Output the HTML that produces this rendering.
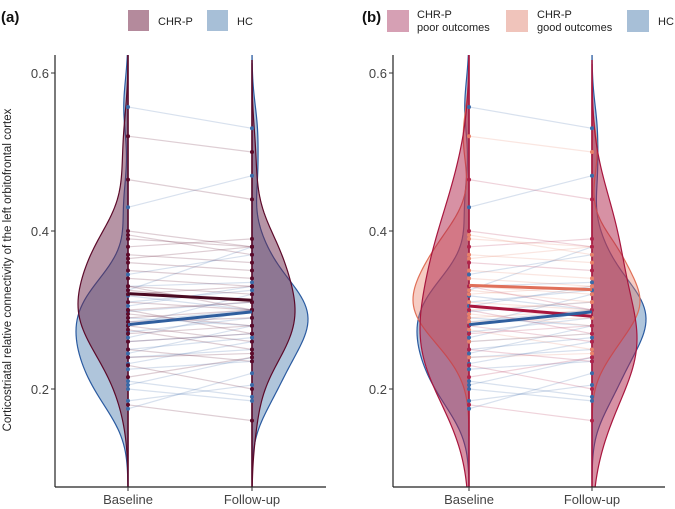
<!DOCTYPE html>
<html><head><meta charset="utf-8">
<style>
body{margin:0;background:#fff;overflow:hidden;}
svg{display:block;font-family:"Liberation Sans",Arial,sans-serif;}
</style></head>
<body>
<svg id="chart" width="675" height="509" viewBox="0 0 675 509" xmlns="http://www.w3.org/2000/svg">
<defs>
<clipPath id="clipA"><rect x="55" y="55" width="271" height="432"/></clipPath>
<clipPath id="clipB"><rect x="393" y="55" width="272" height="432"/></clipPath>
</defs>
<text x="1" y="22" font-size="15" font-weight="bold" fill="#111">(a)</text>
<text x="362" y="22" font-size="15" font-weight="bold" fill="#111">(b)</text>
<text transform="translate(11,270) rotate(-90)" text-anchor="middle" font-size="11.5" fill="#222">Corticostriatal relative connectivity of the left orbitofrontal cortex</text>
<g>
<rect x="128" y="10" width="21" height="21" fill="#b48a9c"/>
<text x="158" y="25" font-size="11" fill="#222">CHR-P</text>
<rect x="207" y="10" width="21" height="21" fill="#a7bfd7"/>
<text x="237" y="25" font-size="11" fill="#222">HC</text>
</g>
<g>
<rect x="387" y="10" width="22" height="22" fill="#d6a0b4"/>
<text x="417" y="18" font-size="11" fill="#222"><tspan x="417">CHR-P</tspan><tspan x="417" dy="13">poor outcomes</tspan></text>
<rect x="506" y="10" width="22" height="22" fill="#f0c4bb"/>
<text x="537" y="18" font-size="11" fill="#222"><tspan x="537">CHR-P</tspan><tspan x="537" dy="13">good outcomes</tspan></text>
<rect x="627" y="10" width="22" height="22" fill="#a7bfd7"/>
<text x="658" y="25" font-size="11" fill="#222">HC</text>
</g>
</svg>
<script>
const yTicks = [0.2, 0.4, 0.6];
const xCategories = ["Baseline", "Follow-up"];
const hcBase   = [0.557,0.43,0.345,0.33,0.325,0.318,0.31,0.305,0.298,0.29,0.285,0.28,0.272,0.265,0.26,0.25,0.245,0.24,0.232,0.225,0.21,0.205,0.2,0.185,0.175];
const hcFollow = [0.53,0.47,0.37,0.335,0.38,0.30,0.325,0.33,0.31,0.28,0.30,0.32,0.29,0.30,0.27,0.265,0.28,0.25,0.26,0.235,0.19,0.24,0.185,0.205,0.22];
const poorBase   = [0.465,0.40,0.38,0.36,0.33,0.30,0.28,0.27,0.25,0.23,0.215,0.18];
const poorFollow = [0.44,0.38,0.39,0.35,0.30,0.27,0.26,0.28,0.235,0.20,0.24,0.16];
const goodBase   = [0.52,0.395,0.39,0.37,0.365,0.35,0.34,0.33,0.325,0.32,0.31,0.30,0.295,0.29,0.285,0.275,0.26,0.24];
const goodFollow = [0.50,0.37,0.38,0.36,0.38,0.34,0.33,0.32,0.31,0.33,0.30,0.31,0.28,0.30,0.29,0.25,0.27,0.245];

const NS = "http://www.w3.org/2000/svg";
const svg = document.getElementById("chart");
const yScale = v => 389 - (v - 0.2) * 790;
function mk(tag, attrs, parent) {
  const e = document.createElementNS(NS, tag);
  for (const k in attrs) e.setAttribute(k, attrs[k]);
  (parent || svg).appendChild(e);
  return e;
}
function mean(a){return a.reduce((s,v)=>s+v,0)/a.length;}
function kde(data){
  const n=data.length, m=mean(data);
  const sd=Math.sqrt(data.reduce((s,v)=>s+(v-m)*(v-m),0)/(n-1));
  const s=[...data].sort((a,b)=>a-b);
  const q=p=>{const i=(n-1)*p,lo=Math.floor(i);return s[lo]+(s[Math.min(lo+1,n-1)]-s[lo])*(i-lo);};
  const iqr=(q(0.75)-q(0.25))/1.34;
  const bw=1.25*0.9*Math.min(sd,iqr>0?iqr:sd)*Math.pow(n,-0.2);
  const lo=s[0]-3*bw, hi=s[n-1]+3*bw, pts=[];
  for(let i=0;i<=120;i++){
    const y=lo+(hi-lo)*i/120;
    let d=0; for(const v of data){const z=(y-v)/bw; d+=Math.exp(-0.5*z*z);}
    pts.push([y,d]);
  }
  const mx=Math.max(...pts.map(p=>p[1]));
  return pts.map(p=>[p[0],p[1]/mx]);
}
function violin(g, data, cx, dir, W, fill, op, stroke, name){
  const pts=kde(data);
  let d=`M${cx},${yScale(pts[0][0])}`;
  for(const [y,den] of pts){ d+=` L${cx+dir*den*W},${yScale(y)}`; }
  d+=` L${cx},${yScale(pts[pts.length-1][0])} Z`;
  const p=mk("path",{d:d,fill:fill,"fill-opacity":op,stroke:stroke,"stroke-width":1.2},g);
  
  
}
function pairs(g, base, fol, x0, x1, color, name){
  for(let i=0;i<base.length;i++){
    const l=mk("line",{x1:x0,y1:yScale(base[i]),x2:x1,y2:yScale(fol[i]),stroke:color,"stroke-opacity":0.2,"stroke-width":1.2},g);
    
    
    for(const [x,v] of [[x0,base[i]],[x1,fol[i]]]){
      const c=mk("circle",{cx:x,cy:yScale(v),r:2,fill:color},g);
      
      
    }
  }
}
function meanLine(g, base, fol, x0, x1, color, name){
  const l=mk("line",{x1:x0,y1:yScale(mean(base)),x2:x1,y2:yScale(mean(fol)),stroke:color,"stroke-width":3},g);
  
  
}
function axes(g, ax, xb, xf, xend){
  const a=mk("line",{x1:ax,y1:55,x2:ax,y2:487,stroke:"#222","stroke-width":1.2},g);
  
  
  const b=mk("line",{x1:ax,y1:487,x2:xend,y2:487,stroke:"#222","stroke-width":1.2},g);
  
  
  for(const t of yTicks){
    const tk=mk("line",{x1:ax-4,y1:yScale(t),x2:ax,y2:yScale(t),stroke:"#333"},g);
    
    
    const tx=mk("text",{x:ax-6,y:yScale(t)+5,"text-anchor":"end","font-size":"13",fill:"#444"},g);
    tx.textContent=t.toFixed(1);
    
    
  }
  [xb,xf].forEach((x,i)=>{
    const tk=mk("line",{x1:x,y1:487,x2:x,y2:491,stroke:"#333"},g);
    
    
    const tx=mk("text",{x:x,y:504,"text-anchor":"middle","font-size":"13",fill:"#444"},g);
    tx.textContent=xCategories[i];
    
    
  });
}
// Panel A
const ga=mk("g",{});


const va=mk("g",{"clip-path":"url(#clipA)"},ga);


const chrBase=poorBase.concat(goodBase), chrFollow=poorFollow.concat(goodFollow);
violin(va, hcBase, 128, -1, 52, "#4d7fb0", 0.45, "#2a5aa0", 'violin-hc-baseline');
violin(va, chrBase, 128, -1, 50, "#6e2a4c", 0.5, "#5c0a2a", 'violin-chrp-baseline');
violin(va, hcFollow, 252, 1, 56, "#4d7fb0", 0.45, "#2a5aa0", 'violin-hc-followup');
violin(va, chrFollow, 252, 1, 43, "#6e2a4c", 0.5, "#5c0a2a", 'violin-chrp-followup');
mk("line",{x1:128,y1:55,x2:128,y2:487,stroke:"#5c0a2a","stroke-width":1.5},va);
mk("line",{x1:252,y1:60,x2:252,y2:487,stroke:"#5c0a2a","stroke-width":1.5},va);
pairs(va, hcBase, hcFollow, 128, 252, "#3a6aa8", 'hc');
pairs(va, chrBase, chrFollow, 128, 252, "#5c0a2a", 'chrp');
meanLine(va, chrBase, chrFollow, 128, 252, "#4a0a22", 'mean-line-chrp');
meanLine(va, hcBase, hcFollow, 128, 252, "#2f5e9e", 'mean-line-hc');
axes(ga, 55, 128, 252, 326);
// Panel B
const gb=mk("g",{});


const vb=mk("g",{"clip-path":"url(#clipB)"},gb);


violin(vb, hcBase, 469, -1, 52, "#4d7fb0", 0.45, "#2a5aa0", 'violin-hc-baseline-b');
violin(vb, goodBase, 469, -1, 56, "#e8806a", 0.4, "#e07058", 'violin-good-baseline');
violin(vb, poorBase, 469, -1, 49, "#b0234a", 0.5, "#a8163e", 'violin-poor-baseline');
violin(vb, hcFollow, 592, 1, 54, "#4d7fb0", 0.45, "#2a5aa0", 'violin-hc-followup-b');
violin(vb, goodFollow, 592, 1, 48, "#e8806a", 0.4, "#e07058", 'violin-good-followup');
violin(vb, poorFollow, 592, 1, 45, "#b0234a", 0.5, "#a8163e", 'violin-poor-followup');
mk("line",{x1:469,y1:55,x2:469,y2:487,stroke:"#a8163e","stroke-width":1.5},vb);
mk("line",{x1:592,y1:60,x2:592,y2:487,stroke:"#a8163e","stroke-width":1.5},vb);
pairs(vb, hcBase, hcFollow, 469, 592, "#3a6aa8", 'hc-b');
pairs(vb, goodBase, goodFollow, 469, 592, "#e8806a", 'good');
pairs(vb, poorBase, poorFollow, 469, 592, "#b0234a", 'poor');
meanLine(vb, goodBase, goodFollow, 469, 592, "#e0705a", 'mean-line-good');
meanLine(vb, poorBase, poorFollow, 469, 592, "#a8163e", 'mean-line-poor');
meanLine(vb, hcBase, hcFollow, 469, 592, "#2f5e9e", 'mean-line-hc-b');
axes(gb, 393, 469, 592, 665);
</script>
</body></html>
